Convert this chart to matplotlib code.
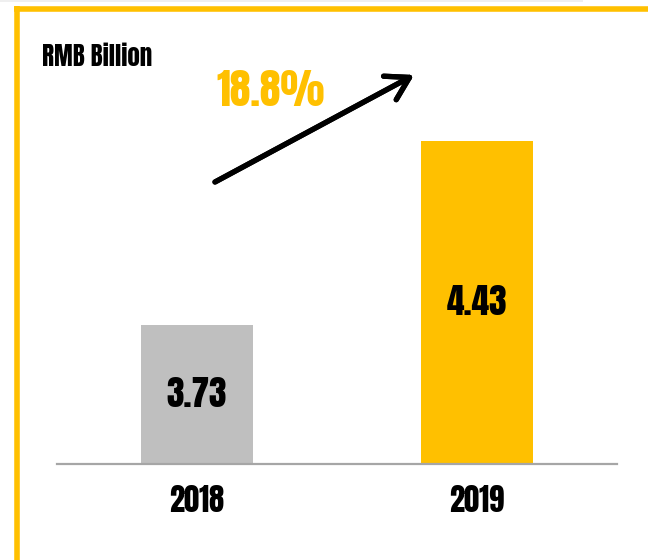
import matplotlib
matplotlib.use("Agg")
import matplotlib.pyplot as plt
from matplotlib.lines import Line2D
from matplotlib.patches import Rectangle

years = ["2018", "2019"]
values = [3.73, 4.43]
bar_colors = ["#BFBFBF", "#FFC000"]
growth_label = "18.8%"
unit_label = "RMB Billion"

FONT = ["Anton", "DejaVu Sans"]
W, H = 648, 560
fig = plt.figure(figsize=(W / 100, H / 100), dpi=100)
fig.patch.set_facecolor("white")

def fx(px):
    return px / W

def fy(py):
    return 1 - py / H

ax = fig.add_axes([fx(57), fy(464), fx(617) - fx(57), fy(40) - fy(464)])
y0 = 3.2
ax.set_ylim(y0, y0 + 424 / 263)
ax.set_xlim(-0.5, 1.5)
x = list(range(len(years)))
ax.bar(x, values, width=0.4, color=bar_colors, zorder=2)
for xi, v in zip(x, values):
    ax.text(xi, (y0 + v) / 2, f"{v:.2f}", ha="center", va="center",
            fontsize=25.5, family=FONT, color="black")

for s in ["top", "right", "left"]:
    ax.spines[s].set_visible(False)
ax.spines["bottom"].set_color("#A6A6A6")
ax.spines["bottom"].set_linewidth(1.6)
ax.spines["bottom"].set_zorder(3)
ax.set_yticks([])
ax.set_xticks(x)
ax.set_xticklabels(years, fontsize=22, family=FONT)
ax.tick_params(axis="x", length=0, pad=15)
ax.patch.set_alpha(0)

# decorative frame
fig.add_artist(Rectangle((0, fy(2)), fx(583), fy(0) - fy(2), transform=fig.transFigure,
                         color="#EFEFEF", lw=0))
fig.add_artist(Line2D([fx(14), 1], [fy(8.7), fy(8.7)], transform=fig.transFigure,
                      color="#FFC000", lw=4, solid_capstyle="butt"))
fig.add_artist(Line2D([fx(16.5), fx(16.5)], [fy(6), 0], transform=fig.transFigure,
                      color="#FFC000", lw=4, solid_capstyle="butt"))

fig.text(fx(42), fy(56), unit_label, ha="left", va="center", fontsize=18,
         family=FONT, color="black")
fig.text(fx(271), fy(91), growth_label, ha="center", va="center", fontsize=30,
         family=FONT, color="#FFC000")

fig.add_artist(plt.annotate(
    "", xy=(fx(414), fy(75)), xytext=(fx(215), fy(182)),
    xycoords="figure fraction", textcoords="figure fraction",
    arrowprops=dict(arrowstyle="->,head_length=1.0,head_width=0.6",
                    mutation_scale=16, lw=3.8, color="black",
                    shrinkA=0, shrinkB=0, capstyle="round")))

fig.savefig("out.png", dpi=100, facecolor="white")
